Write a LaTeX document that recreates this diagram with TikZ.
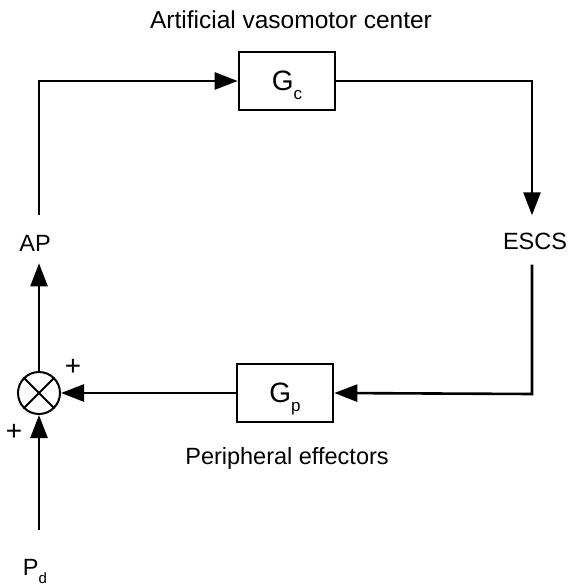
\documentclass[tikz,border=0pt]{standalone}
\usepackage{fontspec}
\setmainfont{Liberation Sans}
\usetikzlibrary{arrows.meta, positioning, calc}

\begin{document}
\begin{tikzpicture}[x=1pt, y=-1pt, line width=2.6pt,
    flow/.style={-{Triangle[length=23pt, width=17pt]}},
    block/.style={draw, minimum width=96pt, minimum height=58pt, inner sep=0pt,
      font=\fontsize{28}{28}\selectfont},
    lbl/.style={inner sep=0pt, font=\fontsize{23.5}{23.5}\selectfont},
    sign/.style={inner sep=0pt, font=\fontsize{28}{28}\selectfont}]
    \useasboundingbox (0,0) rectangle (569,586);

    % Blocks
    \node[block] (gc) at (287,81) {G\raisebox{-9pt}[0pt][0pt]{\fontsize{17}{17}\selectfont c}};
    \node[block] (gp) at (285,393) {G\raisebox{-9pt}[0pt][0pt]{\fontsize{17}{17}\selectfont p}};
    \node[lbl, anchor=base, font=\fontsize{24.5}{24.5}\selectfont] (title) at (291,29) {Artificial vasomotor center};
    \node[lbl, anchor=base] (pe) at (287,464) {Peripheral effectors};

    % Summing junction
    \node[draw, circle, line width=2pt, minimum size=42pt, inner sep=0pt] (sum) at (39,393) {};
    \draw[line width=1.8pt] (sum.north west) -- (sum.south east)
      (sum.north east) -- (sum.south west);
    \node[sign] (plus1) at (73,367) {+};
    \node[sign] (plus2) at (14,432) {+};

    % Signals
    \node[lbl, anchor=base] (ap) at (35,251) {AP};
    \node[lbl, anchor=base] (escs) at (535,249) {ESCS};
    \node[lbl, anchor=base] (pd) at (35,575) {P\raisebox{-8pt}[0pt][0pt]{\fontsize{15}{15}\selectfont d}};

    % Corners
    \coordinate (tl) at (39,81);
    \coordinate (tr) at (532,81);
    \coordinate (br) at (532,394);

    % Loop
    \draw[flow, shorten <=19pt] (tl |- ap.north) -- (tl) -- (gc.west);
    \draw[flow, shorten >=16pt] (gc.east) -- (tr) -- (tr |- escs.north);
    \draw[flow, shorten <=14pt] (br |- escs.south) -- (br) -- (gp.east);
    \draw[flow] (gp.west) -- (sum.east);
    \draw[flow, shorten >=11pt] (sum.north) -- (sum |- ap.south);
    \draw[flow, shorten <=28pt] (sum |- pd.north) -- (sum.south);
  \end{tikzpicture}
\end{document}
